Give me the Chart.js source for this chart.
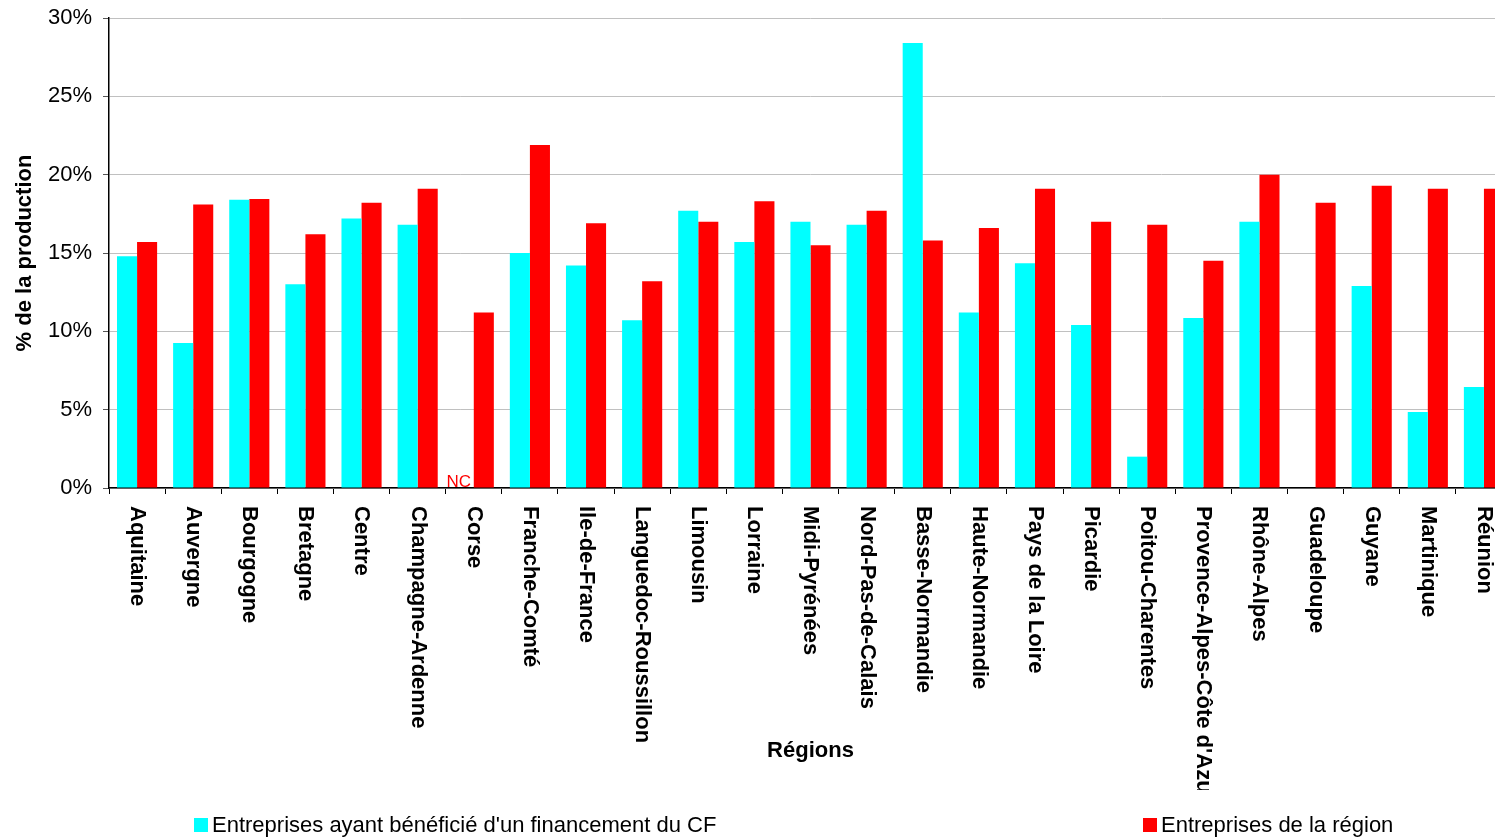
<!DOCTYPE html>
<html>
<head>
<meta charset="utf-8">
<script src="https://cdn.jsdelivr.net/npm/chart.js@4.4.1/dist/chart.umd.min.js"></script>
<style>
html, body { margin: 0; padding: 0; overflow: hidden; background: #fff; }
canvas { display: block; }
</style>
</head>
<body>
<canvas id="chart" width="1515" height="839"></canvas>
<script>
// Chart data
const regions = ['Aquitaine', 'Auvergne', 'Bourgogne', 'Bretagne', 'Centre', 'Champagne-Ardenne', 'Corse',
    'Franche-Comté', 'Ile-de-France', 'Languedoc-Roussillon', 'Limousin', 'Lorraine', 'Midi-Pyrénées',
    'Nord-Pas-de-Calais', 'Basse-Normandie', 'Haute-Normandie', 'Pays de la Loire', 'Picardie',
    'Poitou-Charentes', "Provence-Alpes-Côte d'Azur", 'Rhône-Alpes', 'Guadeloupe', 'Guyane', 'Martinique', 'Réunion'];
const cfValues = [14.8, 9.25, 18.4, 13.0, 17.2, 16.8, null, 15.0, 14.2, 10.7, 17.7, 15.7, 17.0,
    16.8, 28.4, 11.2, 14.35, 10.4, 2.0, 10.85, 17.0, null, 12.9, 4.85, 6.45];
const regionValues = [15.7, 18.1, 18.45, 16.2, 18.2, 19.1, 11.2, 21.9, 16.9, 13.2, 17.0, 18.3, 15.5,
    17.7, 15.8, 16.6, 19.1, 17.0, 16.8, 14.5, 20.0, 18.2, 19.3, 19.1, 19.1];
const cfNotes = ['', '', '', '', '', '', 'NC', '', '', '', '', '', '', '', '', '', '', '', '', '', '', '', '', '', ''];
const seriesNames = ["Entreprises ayant bénéficié d'un financement du CF", 'Entreprises de la région'];
const seriesColors = ['#00ffff', '#ff0000'];
const yMin = 0, yMax = 30, yStep = 5;
const xTitle = 'Régions';
const yTitle = '% de la production';

const FONT = '"Liberation Sans", Arial, sans-serif';

// Category labels, axis title, NC notes and legend drawn by hand
const extras = {
    id: 'extras',
    afterDraw(chart) {
        const ctx = chart.ctx;
        const xScale = chart.scales.x;
        const area = chart.chartArea;

        // rotated region names (reading top to bottom)
        ctx.save();
        ctx.beginPath();
        ctx.rect(0, area.bottom, chart.width, 790 - area.bottom);
        ctx.clip();
        ctx.font = 'bold 22px ' + FONT;
        ctx.fillStyle = '#000';
        ctx.textAlign = 'left';
        ctx.textBaseline = 'middle';
        regions.forEach((r, i) => {
            ctx.save();
            ctx.translate(xScale.getPixelForValue(i), area.bottom + 18);
            ctx.rotate(Math.PI / 2);
            ctx.fillText(r, 0, 0);
            ctx.restore();
        });
        ctx.restore();

        // x axis title
        ctx.save();
        ctx.font = 'bold 22px ' + FONT;
        ctx.fillStyle = '#000';
        ctx.textAlign = 'center';
        ctx.textBaseline = 'middle';
        ctx.fillText(xTitle, (area.left + area.right) / 2, 751);
        ctx.restore();

        // NC notes on missing values
        const meta = chart.getDatasetMeta(0);
        ctx.save();
        ctx.font = '17px ' + FONT;
        ctx.fillStyle = '#ff0000';
        ctx.textAlign = 'center';
        ctx.textBaseline = 'alphabetic';
        cfNotes.forEach((n, i) => {
            if (!n) return;
            const bx = meta.data[i] && isFinite(meta.data[i].x) ? meta.data[i].x : xScale.getPixelForValue(i) - 10;
            ctx.fillText(n, bx - 5, area.bottom - 1);
        });
        ctx.restore();

        // legend
        const legendPos = [194, 1143];
        ctx.save();
        ctx.font = '22px ' + FONT;
        ctx.textAlign = 'left';
        ctx.textBaseline = 'middle';
        chart.data.datasets.forEach((ds, i) => {
            ctx.fillStyle = ds.backgroundColor;
            ctx.fillRect(legendPos[i], 818, 14, 14);
            ctx.fillStyle = '#000';
            ctx.fillText(ds.label, legendPos[i] + 18, 826);
        });
        ctx.restore();
    }
};

new Chart(document.getElementById('chart').getContext('2d'), {
    type: 'bar',
    data: {
        labels: regions,
        datasets: [
            { label: seriesNames[0], data: cfValues, backgroundColor: seriesColors[0] },
            { label: seriesNames[1], data: regionValues, backgroundColor: seriesColors[1] }
        ]
    },
    options: {
        responsive: false,
        animation: false,
        devicePixelRatio: 1,
        categoryPercentage: 0.715,
        barPercentage: 1.0,
        layout: { padding: { top: 18, right: 3, bottom: 345, left: 0 } },
        plugins: {
            legend: { display: false },
            tooltip: { enabled: false }
        },
        scales: {
            x: {
                offset: true,
                grid: { display: true, drawOnChartArea: false, drawTicks: true, tickLength: 6, offset: true, color: '#000', lineWidth: 1 },
                border: { display: true, color: '#000', width: 1.5 },
                ticks: { display: false }
            },
            y: {
                min: yMin,
                max: yMax,
                afterFit(scale) {
                    scale.width = 109;
                    scale.paddingTop = 0;
                    scale.paddingBottom = 0;
                },
                ticks: {
                    stepSize: yStep,
                    padding: 11,
                    color: '#000',
                    font: { family: FONT, size: 22 },
                    callback: v => v + '%'
                },
                grid: { color: '#c0c0c0', lineWidth: 1, tickLength: 6, tickColor: '#555' },
                border: { display: true, color: '#000', width: 1.5 },
                title: {
                    display: true,
                    text: yTitle,
                    color: '#000',
                    font: { family: FONT, size: 22, weight: 'bold' },
                    padding: { top: 12, bottom: 0 }
                }
            }
        }
    },
    plugins: [extras]
});
</script>
</body>
</html>
